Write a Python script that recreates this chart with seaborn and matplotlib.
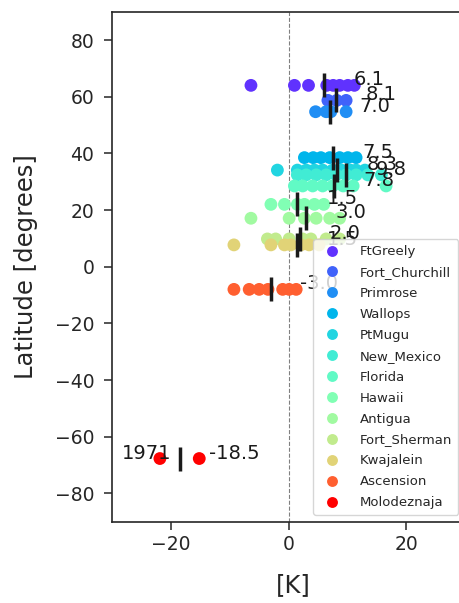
import numpy as np
import pandas as pd
import matplotlib
matplotlib.use("Agg")
import matplotlib.pyplot as plt
import seaborn as sns

# ---------------- data ----------------
stations = ["FtGreely", "Fort_Churchill", "Primrose", "Wallops", "PtMugu",
            "New_Mexico", "Florida", "Hawaii", "Antigua", "Fort_Sherman",
            "Kwajalein", "Ascension", "Molodeznaja"]
latitudes = [64.0, 58.7, 54.7, 38.5, 34.1, 32.4, 28.5, 22.0, 17.1, 9.8, 7.7, -8.0, -67.7]

trend_FtGreely = [-6.4, 1.0, 3.4, 6.5, 7.6, 8.7, 10.1, 11.2]
trend_Fort_Churchill = [6.7, 8.2, 9.8]
trend_Primrose = [4.6, 6.4, 7.2, 9.8]
trend_Wallops = [2.7, 4.2, 5.5, 7.0, 8.7, 10.1, 11.5]
trend_PtMugu = [-1.9, 1.5, 3.0, 4.4, 5.8, 7.5, 9.0, 10.5, 11.5, 13.0]
trend_New_Mexico = [1.5, 3.0, 4.7, 6.4, 8.1, 9.8, 11.5, 13.5, 15.8]
trend_Florida = [1.0, 2.4, 4.1, 5.8, 7.5, 9.3, 11.0, 16.6]
trend_Hawaii = [-3.0, -0.7, 1.5, 2.7, 4.4, 6.0]
trend_Antigua = [-6.4, 0.1, 2.7, 4.7, 7.0, 8.7]
trend_Fort_Sherman = [-3.6, -2.2, 0.1, 2.4, 3.8, 6.4, 8.7]
trend_Kwajalein = [-9.3, -3.0, -0.7, 0.4, 2.1, 3.5, 5.2]
trend_Ascension = [-9.3, -6.7, -5.0, -3.5, -1.0, 0.1, 1.3]
trend_Molodeznaja = [-21.9, -15.2]

trends = [trend_FtGreely, trend_Fort_Churchill, trend_Primrose, trend_Wallops,
          trend_PtMugu, trend_New_Mexico, trend_Florida, trend_Hawaii,
          trend_Antigua, trend_Fort_Sherman, trend_Kwajalein, trend_Ascension,
          trend_Molodeznaja]

mean_trends = [6.1, 8.1, 7.0, 7.5, 8.3, 9.8, 7.8, 1.5, 3.0, 2.0, 1.5, -3.0, -18.5]
year_label = "1971"

# colour positions on the rainbow map
cmap_pos = [0.0625, 0.125, 0.1875, 0.25, 0.3125, 0.375, 0.4375, 0.5,
            0.5625, 0.625, 0.6875, 0.875, 1.0]

# ---------------- build table ----------------
rows = []
for st, lat, tr in zip(stations, latitudes, trends):
    for v in tr:
        rows.append({"station": st, "trend": v, "lat": lat})
df = pd.DataFrame(rows)

cmap = plt.get_cmap("rainbow")
palette = {st: cmap(p) for st, p in zip(stations, cmap_pos)}

# ---------------- plot ----------------
sns.set_style("ticks")
plt.rcParams["font.family"] = ["DejaVu Sans"]

fig = plt.figure(figsize=(4.59, 6.03), dpi=100)
ax = fig.add_axes([0.2447, 0.1348, 0.7679, 0.8458])

ax.axvline(0, color="gray", ls="--", lw=0.8, zorder=1)

sns.scatterplot(data=df, x="trend", y="lat", hue="station", hue_order=stations,
                palette=palette, s=85, linewidth=0, ax=ax, zorder=2)

for st, lat, m in zip(stations, latitudes, mean_trends):
    ax.plot([m], [lat], marker="|", ms=17, mew=2.5, color="#1a1a1a",
            ls="none", zorder=3)
    ax.text(m + 5, lat, f"{m:.1f}", fontsize=14, color="#1a1a1a", zorder=4)

ax.text(-28.3, latitudes[-1], year_label, fontsize=14, color="#1a1a1a", zorder=4)

ax.set_xlim(-30, 30)
ax.set_ylim(-90, 90)
ax.set_xticks([-20, 0, 20])
ax.set_yticks([-80, -60, -40, -20, 0, 20, 40, 60, 80])
ax.tick_params(axis="both", labelsize=13.5, length=6, width=1.1)
ax.tick_params(axis="y", pad=7)
ax.tick_params(axis="x", pad=3.5)
for sp in ax.spines.values():
    sp.set_linewidth(1.2)

ax.set_xlabel("[K]", fontsize=17.5)
ax.set_ylabel("Latitude [degrees]", fontsize=17.5)
ax.yaxis.set_label_coords(-0.21, 0.5)
ax.xaxis.set_label_coords(0.513, -0.1)

handles, labels = ax.get_legend_handles_labels()
leg = ax.legend(handles, labels, loc="lower right", fontsize=9.5,
                labelspacing=0.6, handletextpad=1.1, borderpad=0.45,
                framealpha=0.8, markerscale=0.85)
leg.set_zorder(10)

fig.savefig("out.png", dpi=100)
